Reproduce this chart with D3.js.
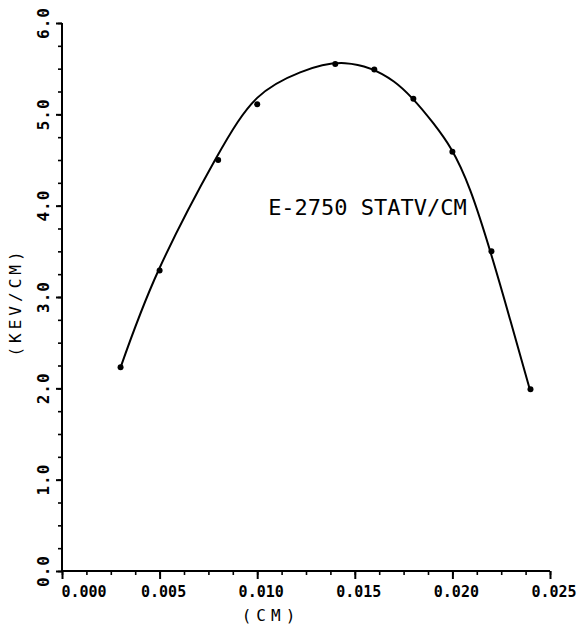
<!DOCTYPE html>
<html>
<head>
<meta charset="utf-8">
<script src="https://cdn.jsdelivr.net/npm/d3@7"></script>
<style>
  body { margin: 0; background: #fff; }
  text { font-family: "DejaVu Sans Mono", monospace; fill: #000; }
</style>
</head>
<body>
<svg id="chart" width="579" height="625"></svg>
<script>
(function() {

    // measured points
    var pointX = [0.003, 0.005, 0.008, 0.010, 0.014, 0.016, 0.018, 0.020, 0.022, 0.024];
    var pointY = [2.23, 3.29, 4.50, 5.11, 5.55, 5.49, 5.17, 4.59, 3.50, 1.99];

    // fitted curve
    var curveX = [0.00301, 0.00494, 0.00784, 0.01000, 0.01220, 0.01450,
                  0.01700, 0.01903, 0.02091, 0.02296, 0.02395];
    var curveY = [2.235, 3.29, 4.50, 5.18, 5.46, 5.56,
                  5.36, 4.90, 4.17, 2.75, 2.00];

    var xTickLabels = ["0.000", "0.005", "0.010", "0.015", "0.020", "0.025"];
    var yTickLabels = ["0.0", "1.0", "2.0", "3.0", "4.0", "5.0", "6.0"];
    var annotation = "E-2750 STATV/CM";

    var left = 62, right = 550, top = 23, bottom = 571;

    var svg = d3.select("#chart");

    var x = d3.scaleLinear().domain([0, 0.025]).range([left, right]);
    var y = d3.scaleLinear().domain([0, 6]).range([bottom, top]);

    // x axis: minor every 0.00125, major every 0.005
    var xMinor = d3.range(0, 21).map(function(i) { return i * 0.00125; });
    var xMajor = xTickLabels.map(function(s) { return +s; });

    svg.append("g")
        .attr("transform", "translate(0," + bottom + ")")
        .call(d3.axisBottom(x).tickValues(xMinor).tickSize(4).tickFormat(""))
        .call(function(g) {
            g.select(".domain").attr("stroke-width", 2).attr("d", "M" + left + ",0H" + right);
            g.selectAll(".tick line").attr("stroke-width", 1.6);
        });

    svg.append("g")
        .attr("transform", "translate(0," + bottom + ")")
        .call(d3.axisBottom(x).tickValues(xMajor).tickSize(8).tickFormat(""))
        .call(function(g) {
            g.select(".domain").remove();
            g.selectAll(".tick line").attr("stroke-width", 2);
        });

    // x tick labels (first one nudged off the y axis like the original)
    svg.append("g").selectAll("text")
        .data(xTickLabels)
        .join("text")
        .attr("x", function(d, i) { return x(+d) + (i == 0 ? 22 : 4); })
        .attr("y", 592)
        .attr("text-anchor", "middle")
        .attr("dominant-baseline", "central")
        .attr("font-size", 15)
        .attr("font-weight", "bold")
        .text(function(d) { return d; });

    // y axis: minor every 0.25, major every 1
    var yMinor = d3.range(0, 25).map(function(i) { return i * 0.25; });
    var yMajor = yTickLabels.map(function(s) { return +s; });

    svg.append("g")
        .attr("transform", "translate(" + left + ",0)")
        .call(d3.axisLeft(y).tickValues(yMinor).tickSize(4).tickFormat(""))
        .call(function(g) {
            g.select(".domain").attr("stroke-width", 2).attr("d", "M0," + bottom + "V" + top);
            g.selectAll(".tick line").attr("stroke-width", 1.6);
        });

    svg.append("g")
        .attr("transform", "translate(" + left + ",0)")
        .call(d3.axisLeft(y).tickValues(yMajor).tickSize(6).tickFormat(""))
        .call(function(g) {
            g.select(".domain").remove();
            g.selectAll(".tick line").attr("stroke-width", 2);
        });

    svg.append("g").selectAll("text")
        .data(yTickLabels)
        .join("text")
        .attr("transform", function(d) { return "translate(43," + y(+d) + ") rotate(-90)"; })
        .attr("text-anchor", "middle")
        .attr("dominant-baseline", "central")
        .attr("font-size", 16)
        .attr("font-weight", "bold")
        .attr("letter-spacing", 1)
        .text(function(d) { return d; });

    // axis titles
    svg.append("text")
        .attr("x", 271)
        .attr("y", 615)
        .attr("text-anchor", "middle")
        .attr("dominant-baseline", "central")
        .attr("font-size", 16)
        .attr("letter-spacing", 5)
        .text("(CM)");

    svg.append("text")
        .attr("transform", "translate(15,302) rotate(-90)")
        .attr("text-anchor", "middle")
        .attr("dominant-baseline", "central")
        .attr("font-size", 16)
        .attr("letter-spacing", 4)
        .text("(KEV/CM)");

    // fitted curve
    var curve = curveX.map(function(d, i) { return [d, curveY[i]]; });
    var line = d3.line()
        .x(function(d) { return x(d[0]); })
        .y(function(d) { return y(d[1]); })
        .curve(d3.curveNatural);

    svg.append("path")
        .datum(curve)
        .attr("d", line)
        .attr("fill", "none")
        .attr("stroke", "#000")
        .attr("stroke-width", 2);

    // data points
    svg.append("g").selectAll("circle")
        .data(pointX)
        .join("circle")
        .attr("cx", function(d) { return x(d); })
        .attr("cy", function(d, i) { return y(pointY[i]); })
        .attr("r", 3)
        .attr("fill", "#000");

    svg.append("text")
        .attr("x", x(0.01056))
        .attr("y", y(3.98))
        .attr("dominant-baseline", "central")
        .attr("font-size", 22)
        .text(annotation);

})();
</script>
</body>
</html>
